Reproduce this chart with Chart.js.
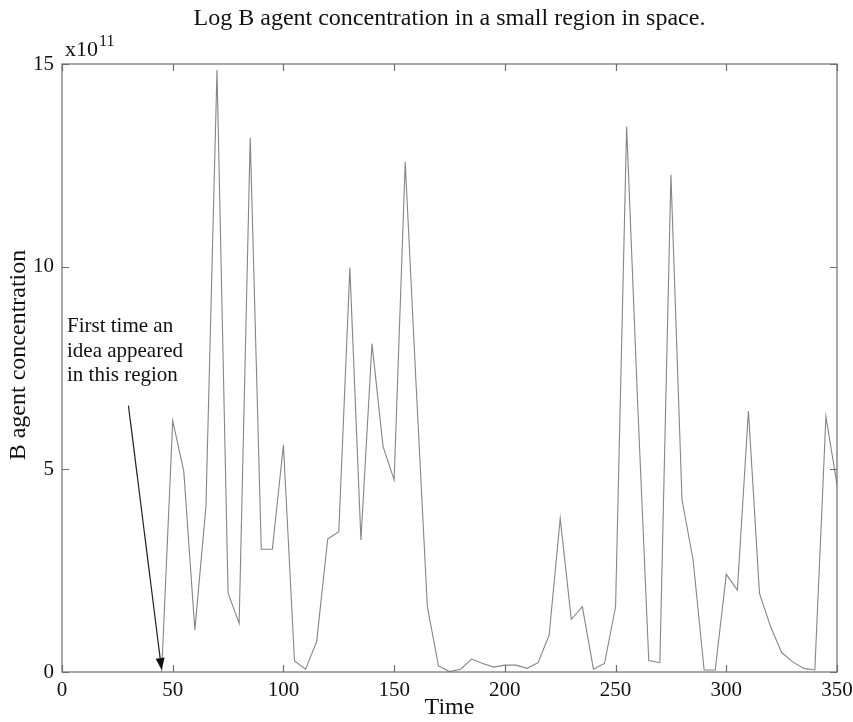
<!DOCTYPE html>
<html>
<head>
<meta charset="utf-8">
<script src="https://cdn.jsdelivr.net/npm/chart.js@4/dist/chart.umd.min.js"></script>
<style>
  html, body { margin: 0; padding: 0; background: #fff; }
  #wrap { width: 853px; height: 722px; }
</style>
</head>
<body>
<div id="wrap"><canvas id="myChart" width="853" height="722"></canvas></div>
<script>
// time steps and B agent concentration (units of 1e11)
var times = [45, 50, 55, 60, 65, 70, 75, 80, 85, 90, 95, 100, 105, 110, 115, 120, 125, 130, 135, 140,
             145, 150, 155, 160, 165, 170, 175, 180, 185, 190, 195, 200, 205, 210, 215, 220, 225, 230,
             235, 240, 245, 250, 255, 260, 265, 270, 275, 280, 285, 290, 295, 300, 305, 310, 315, 320,
             325, 330, 335, 340, 345, 350];
var concentration = [0, 6.2, 4.95, 1.04, 4.08, 14.85, 1.95, 1.2, 13.18, 3.03, 3.03, 5.6, 0.27, 0.07, 0.75, 3.28, 3.46, 9.97, 3.26, 8.1,
                     5.56, 4.74, 12.58, 7.0, 1.61, 0.15, 0.01, 0.07, 0.32, 0.21, 0.12, 0.17, 0.17, 0.09, 0.23, 0.91, 3.79, 1.3,
                     1.61, 0.07, 0.21, 1.61, 13.46, 6.6, 0.28, 0.23, 12.27, 4.25, 2.77, 0.05, 0.05, 2.41, 2.02, 6.44, 1.94, 1.12,
                     0.48, 0.25, 0.09, 0.05, 6.3, 4.62];
var xTicks = [0, 50, 100, 150, 200, 250, 300, 350];
var yTicks = [0, 5, 10, 15];

var annotationLines = ['First time an', 'idea appeared', 'in this region'];
var arrowFrom = {x: 30, y: 6.57};
var arrowTo = {x: 45, y: 0.05};

var SERIF = '"Liberation Serif", "DejaVu Serif", serif';

var points = times.map(function (t, i) { return {x: t, y: concentration[i]}; });

// frame, inward ticks, title and annotation
var decorations = {
  id: 'decorations',
  afterDatasetsDraw: function (chart) {
    var ctx = chart.ctx;
    var a = chart.chartArea;
    var xs = chart.scales.x, ys = chart.scales.y;
    ctx.save();
    ctx.strokeStyle = '#6e6e6e';
    ctx.lineWidth = 1.2;
    ctx.strokeRect(a.left, a.top, a.right - a.left, a.bottom - a.top);
    ctx.beginPath();
    xTicks.forEach(function (v) {
      var px = Math.round(xs.getPixelForValue(v)) + 0.5;
      ctx.moveTo(px, a.bottom); ctx.lineTo(px, a.bottom - 7);
      ctx.moveTo(px, a.top); ctx.lineTo(px, a.top + 7);
    });
    yTicks.forEach(function (v) {
      var py = Math.round(ys.getPixelForValue(v)) + 0.5;
      ctx.moveTo(a.left, py); ctx.lineTo(a.left + 7, py);
      ctx.moveTo(a.right, py); ctx.lineTo(a.right - 7, py);
    });
    ctx.stroke();

    // title
    ctx.fillStyle = '#111';
    ctx.textAlign = 'center';
    ctx.textBaseline = 'alphabetic';
    ctx.font = '24px ' + SERIF;
    ctx.fillText('Log B agent concentration in a small region in space.', (a.left + a.right) / 2, 25);

    // y axis title
    ctx.save();
    ctx.translate(25, 355);
    ctx.rotate(-Math.PI / 2);
    ctx.font = '24px ' + SERIF;
    ctx.fillText('B agent concentration', 0, 0);
    ctx.restore();

    // exponent label
    ctx.textAlign = 'left';
    ctx.font = '22px ' + SERIF;
    ctx.fillText('x10', a.left + 3, 56);
    var w = ctx.measureText('x10').width;
    ctx.font = '16px ' + SERIF;
    ctx.fillText('11', a.left + 3 + w + 1, 46);

    // annotation text
    ctx.font = '21px ' + SERIF;
    annotationLines.forEach(function (line, i) {
      ctx.fillText(line, a.left + 5, 332 + i * 24.5);
    });

    // arrow
    var x0 = xs.getPixelForValue(arrowFrom.x), y0 = ys.getPixelForValue(arrowFrom.y);
    var x1 = xs.getPixelForValue(arrowTo.x), y1 = ys.getPixelForValue(arrowTo.y);
    var ang = Math.atan2(y1 - y0, x1 - x0);
    var hl = 12, hw = 4.5;
    var bx = x1 - hl * Math.cos(ang), by = y1 - hl * Math.sin(ang);
    ctx.strokeStyle = '#222';
    ctx.lineWidth = 1.2;
    ctx.beginPath();
    ctx.moveTo(x0, y0); ctx.lineTo(bx, by);
    ctx.stroke();
    ctx.fillStyle = '#111';
    ctx.beginPath();
    ctx.moveTo(x1, y1);
    ctx.lineTo(bx + hw * Math.sin(ang), by - hw * Math.cos(ang));
    ctx.lineTo(bx - hw * Math.sin(ang), by + hw * Math.cos(ang));
    ctx.closePath();
    ctx.fill();
    ctx.restore();
  }
};

var ctx = document.getElementById('myChart').getContext('2d');
var chart = new Chart(ctx, {
  type: 'line',
  data: {
    datasets: [{
      data: points,
      borderColor: '#858585',
      borderWidth: 1.1,
      pointRadius: 0,
      fill: false,
      tension: 0
    }]
  },
  options: {
    responsive: false,
    animation: false,
    layout: { padding: { top: 64, right: 16, left: 0, bottom: 0 } },
    plugins: {
      legend: { display: false },
      tooltip: { enabled: false }
    },
    scales: {
      x: {
        type: 'linear',
        min: 0,
        max: 350,
        afterBuildTicks: function (scale) { scale.ticks = xTicks.map(function (v) { return {value: v}; }); },
        afterFit: function (scale) { scale.height = 50; scale.paddingLeft = 0; scale.paddingRight = 0; },
        grid: { display: false, drawTicks: false },
        border: { display: false },
        ticks: { color: '#111', font: { family: SERIF, size: 21 }, padding: 6, maxRotation: 0 },
        title: { display: true, text: 'Time', color: '#111', font: { family: SERIF, size: 24 }, padding: { top: 0, bottom: 0 } }
      },
      y: {
        min: 0,
        max: 15,
        afterBuildTicks: function (scale) { scale.ticks = yTicks.map(function (v) { return {value: v}; }); },
        afterFit: function (scale) { scale.width = 62; scale.paddingTop = 0; scale.paddingBottom = 0; },
        grid: { display: false, drawTicks: false },
        border: { display: false },
        ticks: { color: '#111', font: { family: SERIF, size: 21 }, padding: 8 }
      }
    }
  },
  plugins: [decorations]
});
</script>
</body>
</html>
